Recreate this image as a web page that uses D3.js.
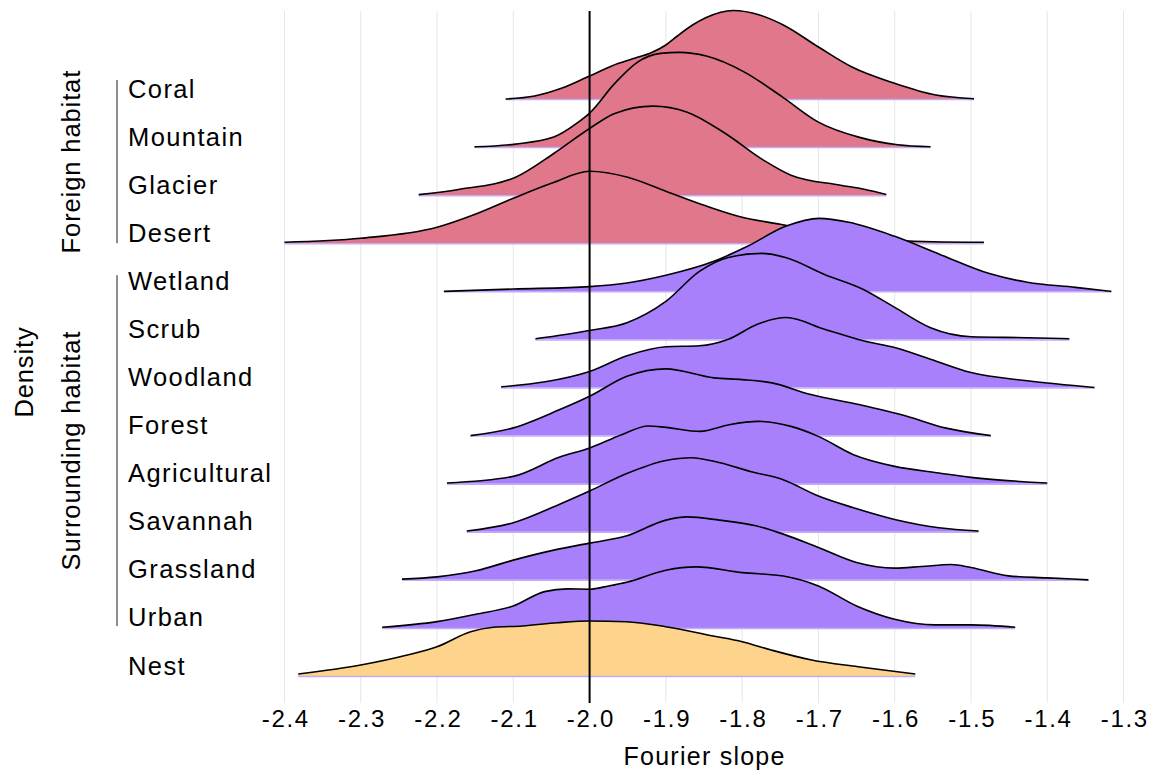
<!DOCTYPE html>
<html>
<head>
<meta charset="utf-8">
<script src="https://cdn.jsdelivr.net/npm/d3@7"></script>
<style>
  body { margin: 0; background: #fff; }
  text { font-family: "Liberation Sans", Arial, sans-serif; fill: #000; }
</style>
</head>
<body>
<div id="chart"></div>
<script>
// habitat rows, top to bottom
const foreignHabitats = ["Coral", "Mountain", "Glacier", "Desert"];
const surroundingHabitats = ["Wetland", "Scrub", "Woodland", "Forest", "Agricultural", "Savannah", "Grassland", "Urban"];
const nestHabitats = ["Nest"];
const categories = foreignHabitats.concat(surroundingHabitats, nestHabitats);

const xTicks = [-2.4, -2.3, -2.2, -2.1, -2.0, -1.9, -1.8, -1.7, -1.6, -1.5, -1.4, -1.3];

// density curves: [fourier slope, density]
const coral = [[-2.110,0],[-2.072,0.3],[-2.037,1.07],[-2.0,2.3],[-1.962,3.57],[-1.94,4.1],[-1.92,4.6],[-1.9,5.4],[-1.885,6.3],[-1.865,7.4],[-1.847,8.15],[-1.812,8.85],[-1.777,8.4],[-1.746,7.4],[-1.7,5.2],[-1.656,3.2],[-1.6,1.57],[-1.546,0.4],[-1.496,0.03]];
const mountain = [[-2.151,0.03],[-2.097,0.3],[-2.047,1.0],[-2.017,2.37],[-2.0,3.4],[-1.967,6.37],[-1.937,8.5],[-1.907,9.37],[-1.882,9.47],[-1.847,9.1],[-1.797,7.5],[-1.747,5.0],[-1.7,2.5],[-1.646,0.97],[-1.596,0.23],[-1.553,0.03]];
const glacier = [[-2.224,0.05],[-2.172,0.57],[-2.097,1.8],[-2.047,4.17],[-2.0,6.67],[-1.967,8.17],[-1.917,8.9],[-1.872,8.3],[-1.822,6.17],[-1.772,3.5],[-1.736,2.0],[-1.671,1.0],[-1.64,0.6],[-1.611,0.07]];
const desert = [[-2.4,0.1],[-2.3,0.5],[-2.2,1.6],[-2.15,2.9],[-2.1,4.5],[-2.05,6.0],[-2.0,7.2],[-1.95,6.6],[-1.9,5.2],[-1.85,3.8],[-1.8,2.6],[-1.75,1.9],[-1.7,1.2],[-1.65,0.6],[-1.6,0.3],[-1.55,0.15],[-1.483,0.1]];
const wetland = [[-2.191,0],[-2.1,0.23],[-2.0,0.47],[-1.951,0.83],[-1.9,1.6],[-1.837,3.0],[-1.793,4.5],[-1.743,6.5],[-1.699,7.3],[-1.66,6.9],[-1.6,5.5],[-1.54,3.67],[-1.477,1.8],[-1.426,0.9],[-1.363,0.4],[-1.316,0]];
const scrub = [[-2.071,0.07],[-2.0,0.9],[-1.951,1.67],[-1.9,3.8],[-1.856,6.8],[-1.818,8.2],[-1.774,8.6],[-1.742,8.17],[-1.692,6.5],[-1.641,5.0],[-1.6,3.2],[-1.553,1.17],[-1.5,0.27],[-1.426,0.17],[-1.371,0.07]];
const woodland = [[-2.116,0.07],[-2.058,0.57],[-2.0,1.6],[-1.951,3.17],[-1.9,4.07],[-1.856,4.17],[-1.818,4.83],[-1.78,6.33],[-1.742,7.0],[-1.692,5.83],[-1.641,4.67],[-1.6,4.0],[-1.553,2.83],[-1.5,1.5],[-1.426,0.67],[-1.338,0]];
const forest = [[-2.156,0],[-2.1,0.77],[-2.039,2.6],[-2.0,3.93],[-1.951,5.93],[-1.9,6.67],[-1.837,5.77],[-1.8,5.6],[-1.761,5.27],[-1.71,4.1],[-1.647,3.1],[-1.584,1.93],[-1.534,0.77],[-1.474,0]];
const agricultural = [[-2.187,0.07],[-2.1,0.73],[-2.04,2.63],[-2.0,3.57],[-1.958,4.9],[-1.923,5.77],[-1.9,5.63],[-1.855,5.23],[-1.817,5.9],[-1.779,6.23],[-1.736,5.73],[-1.7,4.73],[-1.654,2.9],[-1.6,1.73],[-1.542,1.07],[-1.5,0.63],[-1.4,0.07]];
const savannah = [[-2.161,0.07],[-2.1,0.9],[-2.04,2.73],[-2.0,4.07],[-1.952,5.8],[-1.9,7.13],[-1.867,7.4],[-1.829,6.9],[-1.788,6.0],[-1.747,5.23],[-1.7,3.57],[-1.654,2.4],[-1.6,1.23],[-1.542,0.4],[-1.49,0.07]];
const grassland = [[-2.246,0.07],[-2.2,0.3],[-2.149,0.9],[-2.1,1.97],[-2.047,2.97],[-2.0,3.67],[-1.951,4.4],[-1.9,5.97],[-1.872,6.3],[-1.83,5.97],[-1.782,5.4],[-1.746,4.57],[-1.7,3.23],[-1.65,1.73],[-1.6,1.17],[-1.565,1.33],[-1.526,1.53],[-1.5,1.23],[-1.451,0.4],[-1.4,0.2],[-1.346,0]];
const urban = [[-2.272,0.07],[-2.2,0.63],[-2.149,1.37],[-2.1,2.2],[-2.059,3.63],[-2.029,3.9],[-2.0,3.87],[-1.975,4.2],[-1.95,4.6],[-1.9,5.77],[-1.86,6.1],[-1.8,5.53],[-1.746,5.2],[-1.7,4.2],[-1.65,2.2],[-1.6,0.87],[-1.547,0.3],[-1.5,0.3],[-1.442,0.07]];
const nest = [[-2.382,0.2],[-2.3,1.1],[-2.239,2.1],[-2.2,2.93],[-2.156,4.43],[-2.126,4.87],[-2.088,5.0],[-2.042,5.33],[-2.0,5.5],[-1.952,5.43],[-1.9,4.93],[-1.838,4.0],[-1.8,3.43],[-1.762,2.6],[-1.709,1.6],[-1.648,0.93],[-1.573,0.2]];

const curves = [coral, mountain, glacier, desert, wetland, scrub, woodland, forest,
                agricultural, savannah, grassland, urban, nest];

const width = 1156;
const height = 773;
const panelTop = 11;
const panelBottom = 703;

const svg = d3.select("#chart")
  .append("svg")
  .attr("width", width)
  .attr("height", height);

svg.append("rect").attr("width", width).attr("height", height).attr("fill", "#fff");

// scales
const x = d3.scaleLinear().domain([-2.4, -1.3]).range([284.5, 1123.5]);
const y = d3.scalePoint().domain(categories).range([99, 676]);
const h = d3.scaleLinear().domain([0, 10]).range([0, 100]);

const fillFor = name => foreignHabitats.includes(name) ? "#e0778b"
  : surroundingHabitats.includes(name) ? "#a880fc" : "#fed38b";

// vertical gridlines
svg.append("g")
  .selectAll("line")
  .data(xTicks)
  .join("line")
  .attr("x1", d => x(d)).attr("x2", d => x(d))
  .attr("y1", panelTop).attr("y2", panelBottom)
  .attr("stroke", "#e6e6e6")
  .attr("stroke-width", 1);

// ridges, top row first so lower rows overlap
const ridges = svg.append("g");
categories.forEach((name, i) => {
  const pts = curves[i];
  const base = y(name);
  const area = d3.area()
    .x(d => x(d[0]))
    .y0(base)
    .y1(d => base - h(d[1]))
    .curve(d3.curveMonotoneX);
  const line = d3.line()
    .x(d => x(d[0]))
    .y(d => base - h(d[1]))
    .curve(d3.curveMonotoneX);
  const g = ridges.append("g");
  g.append("path")
    .attr("d", area(pts))
    .attr("fill", fillFor(name));
  g.append("line")
    .attr("x1", x(pts[0][0])).attr("x2", x(pts[pts.length - 1][0]))
    .attr("y1", base + 0.5).attr("y2", base + 0.5)
    .attr("stroke", "#c4abf8")
    .attr("stroke-width", 1.5);
  g.append("path")
    .attr("d", line(pts))
    .attr("fill", "none")
    .attr("stroke", "#000")
    .attr("stroke-width", 1.6);
});

// reference line at -2.0
svg.append("line")
  .attr("x1", x(-2.0)).attr("x2", x(-2.0))
  .attr("y1", panelTop).attr("y2", panelBottom)
  .attr("stroke", "#000")
  .attr("stroke-width", 2);

// x axis
const xAxis = svg.append("g")
  .attr("transform", `translate(0, ${panelBottom})`)
  .call(d3.axisBottom(x).tickValues(xTicks).tickSize(0).tickPadding(7).tickFormat(d => d.toFixed(1)));
xAxis.select(".domain").remove();
xAxis.selectAll("text")
  .attr("font-family", "Liberation Sans, Arial, sans-serif")
  .attr("font-size", 24)
  .attr("letter-spacing", 1.7)
  .attr("dx", 0.8)
  .attr("fill", "#000");

svg.append("text")
  .attr("x", (x(-2.4) + x(-1.3)) / 2 + 0.6)
  .attr("y", 765)
  .attr("text-anchor", "middle")
  .attr("font-size", 25)
  .attr("letter-spacing", 1.25)
  .text("Fourier slope");

// row labels
svg.append("g")
  .selectAll("text")
  .data(categories)
  .join("text")
  .attr("x", 128)
  .attr("y", d => y(d) - 1.5)
  .attr("font-size", 25.5)
  .attr("letter-spacing", 1.4)
  .text(d => d);

// group brackets and titles
const brackets = [
  { label: "Foreign habitat", top: y(foreignHabitats[0]) - 19, bottom: y(foreignHabitats[foreignHabitats.length - 1]) },
  { label: "Surrounding habitat", top: y(surroundingHabitats[0]) - 16, bottom: y(surroundingHabitats[surroundingHabitats.length - 1]) - 2 }
];
brackets.forEach(b => {
  svg.append("line")
    .attr("x1", 117).attr("x2", 117)
    .attr("y1", b.top).attr("y2", b.bottom)
    .attr("stroke", "#666")
    .attr("stroke-width", 1.5);
  svg.append("text")
    .attr("transform", `translate(80, ${(b.top + b.bottom) / 2}) rotate(-90)`)
    .attr("text-anchor", "middle")
    .attr("font-size", 25.5)
    .attr("letter-spacing", 0.9)
    .text(b.label);
});

svg.append("text")
  .attr("transform", "translate(33, 372) rotate(-90)")
  .attr("text-anchor", "middle")
  .attr("font-size", 25.5)
  .attr("letter-spacing", 0.85)
  .text("Density");
</script>
</body>
</html>
